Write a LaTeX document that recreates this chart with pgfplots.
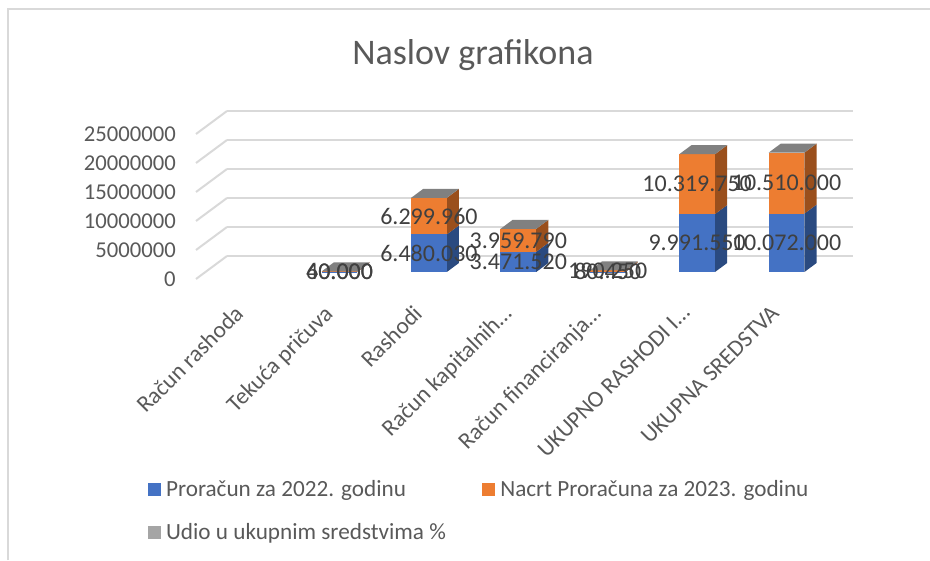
\documentclass[border=0pt]{standalone}
\usepackage{fontspec}
\setmainfont{Carlito}
\usepackage{pgfplots}
\pgfplotsset{compat=1.18}
\definecolor{cblue}{HTML}{4472C4}
\definecolor{sblue}{HTML}{2A4A80}
\definecolor{corange}{HTML}{ED7D31}
\definecolor{sorange}{HTML}{9A4F1C}
\definecolor{cgrey}{HTML}{A5A5A5}
\definecolor{tgrey}{HTML}{808080}
\definecolor{txt}{HTML}{595959}
\definecolor{lab}{HTML}{404040}
\definecolor{gridc}{HTML}{D9D9D9}
% segment: x0 x1 z0 z1 front side
\newcommand\seg[6]{%
  \addplot3[forget plot,fill=#6,draw=none] coordinates {(#2,.305,#3)(#2,.695,#3)(#2,.695,#4)(#2,.305,#4)};
  \addplot3[forget plot,fill=#5,draw=none] coordinates {(#1,.305,#3)(#2,.305,#3)(#2,.305,#4)(#1,.305,#4)};
}
\newcommand\tp[3]{%
  \addplot3[forget plot,fill=tgrey,draw=none] coordinates {(#1,.305,#3)(#2,.305,#3)(#2,.695,#3)(#1,.695,#3)};
}
\newcommand\lbl[3]{\node[font=\fontsize{18}{20}\selectfont,text=lab,anchor=center] at (axis cs:#1,.305,#2) {#3};}
\begin{document}
\begin{tikzpicture}[x=0.75pt,y=0.75pt]
\useasboundingbox (0,0) rectangle (930,560);
\draw[gridc,line width=1.6pt] (8,0) -- (8,551) -- (930,551);
\begin{axis}[
  at={(147pt,210.75pt)},anchor=origin,
  clip=false,
  x={(67.05pt,0pt)},y={(23.25pt,17.25pt)},z={(0pt,4.35pt)},
  xmin=0,xmax=7,ymin=0,ymax=1,zmin=0,zmax=25000000,
  z coord trafo/.code={\begingroup\pgfkeys{/pgf/fpu=true,/pgf/fpu/output format=fixed}\pgfmathparse{#1/1000000}\pgfmathsmuggle\pgfmathresult\endgroup},
  axis line style={draw=none},
  major tick length=0pt,
  minor tick num=0,
  ytick=\empty,
  xtick={0.5,1.5,2.5,3.5,4.5,5.5,6.5},
  xticklabels={Račun rashoda,Tekuća pričuva,Rashodi,Račun kapitalnih…,Račun financiranja…,UKUPNO RASHODI I…,UKUPNA SREDSTVA},
  ztick={0,5000000,10000000,15000000,20000000,25000000},
  zticklabels={0,5000000,10000000,15000000,20000000,25000000},
  zmajorgrids=true,
  grid style={gridc,line width=1.5pt},
  x tick label style={font=\fontsize{17.5}{19}\selectfont,text=txt,rotate=45,anchor=north east,inner sep=0pt,xshift=-17pt,yshift=-9pt},
  z tick label style={font=\fontsize{17}{19}\selectfont,text=txt,anchor=east,inner sep=0pt,xshift=-15pt},
  title={Naslov grafikona},
  title style={font=\fontsize{27}{30}\selectfont,text=txt,at={(axis description cs:.4216,1.288)},anchor=center},
  legend columns=2,
  legend cell align=left,
  legend image code/.code={\path[#1] (0pt,-4.9pt) rectangle (9.75pt,4.9pt);},
  legend style={draw=none,fill=none,font=\fontsize{17.4}{19}\selectfont,text=txt,
    at={(axis description cs:-0.08,-1.163)},anchor=north west,
    nodes={inner xsep=4pt},
    /tikz/row sep=15.25pt,
    /tikz/every even column/.append style={column sep=23pt}},
]
\addlegendimage{fill=cblue,draw=none}
\addlegendentry{Proračun za 2022. godinu}
\addlegendimage{fill=corange,draw=none}
\addlegendentry{Nacrt Proračuna za 2023. godinu}
\addlegendimage{fill=cgrey,draw=none}
\addlegendentry{Udio u ukupnim sredstvima \%}
\seg{1.3}{1.7}{0}{40000}{cblue}{sblue}
\seg{1.3}{1.7}{40000}{100000}{corange}{sorange}
\tp{1.3}{1.7}{100000}
\seg{2.3}{2.7}{0}{6480030}{cblue}{sblue}
\seg{2.3}{2.7}{6480030}{12779990}{corange}{sorange}
\tp{2.3}{2.7}{12779990}
\seg{3.3}{3.7}{0}{3471520}{cblue}{sblue}
\seg{3.3}{3.7}{3471520}{7431310}{corange}{sorange}
\tp{3.3}{3.7}{7431310}
\seg{4.3}{4.7}{0}{80450}{cblue}{sblue}
\seg{4.3}{4.7}{80450}{270700}{corange}{sorange}
\tp{4.3}{4.7}{270700}
\seg{5.3}{5.7}{0}{9991550}{cblue}{sblue}
\seg{5.3}{5.7}{9991550}{20311300}{corange}{sorange}
\tp{5.3}{5.7}{20311300}
\seg{6.3}{6.7}{0}{10072000}{cblue}{sblue}
\seg{6.3}{6.7}{10072000}{20582000}{corange}{sorange}
\tp{6.3}{6.7}{20582000}
\lbl{1.5}{20000}{40.000}
\lbl{1.5}{70000}{60.000}
\lbl{2.5}{3240015}{6.480.030}
\lbl{2.5}{9630010}{6.299.960}
\lbl{3.5}{1735760}{3.471.520}
\lbl{3.5}{5451415}{3.959.790}
\lbl{4.5}{40225}{80.450}
\lbl{4.5}{175575}{190.250}
\lbl{5.5}{4995775}{9.991.550}
\lbl{5.5}{15151425}{10.319.750}
\lbl{6.5}{5036000}{10.072.000}
\lbl{6.5}{15327000}{10.510.000}
\end{axis}
\end{tikzpicture}
\end{document}
